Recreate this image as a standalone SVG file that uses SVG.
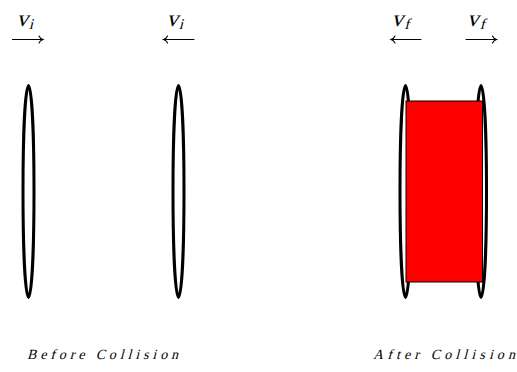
<svg xmlns="http://www.w3.org/2000/svg" width="517" height="372" viewBox="0 0 517 372">
<style>
.disc{fill:none;stroke:#000;stroke-width:3}
.arr{fill:none;stroke:#000;stroke-width:1.1;stroke-linecap:round}
text{font-family:'Liberation Serif','Times New Roman',serif;font-weight:normal;fill:#000}
.lbl{font-size:23px}
.sub{font-size:15px}
.cap{font-size:14px}
</style>
<rect width="517" height="372" fill="#fff"/>
<g id="disc-left-before"><ellipse class="disc" cx="28.5" cy="191.5" rx="5.5" ry="106"/></g>
<g id="disc-right-before"><ellipse class="disc" cx="178.5" cy="191.5" rx="5.5" ry="106"/></g>
<g id="disc-left-after"><ellipse class="disc" cx="405.5" cy="191.5" rx="5.5" ry="106"/></g>
<g id="disc-right-after"><ellipse class="disc" cx="481" cy="191.5" rx="5.5" ry="106"/></g>
<g id="merged-block"><rect x="406" y="101" width="76.5" height="181" fill="#f00" stroke="#000" stroke-width="1"/></g>
<g id="connectors">
<path class="arr" d="M12.5 39.5H43M39 36Q40 38.5 43 39.5Q40 40.5 39 43"/>
<path class="arr" d="M194 39.5H163.5M167.5 36Q166.5 38.5 163.5 39.5Q166.5 40.5 167.5 43"/>
<path class="arr" d="M421 39.5H391M395 36Q394 38.5 391 39.5Q394 40.5 395 43"/>
<path class="arr" d="M466 39.5H496.5M492.5 36Q493.5 38.5 496.5 39.5Q493.5 40.5 492.5 43"/>
</g>
<g id="labels">
<g transform="translate(16.5,25.5) skewX(-15)"><text class="lbl">v<tspan class="sub" dx="1.5" dy="3">i</tspan></text></g>
<g transform="translate(166.5,25.5) skewX(-15)"><text class="lbl">v<tspan class="sub" dx="1.5" dy="3">i</tspan></text></g>
<g transform="translate(391.5,25.5) skewX(-15)"><text class="lbl">v<tspan class="sub" dx="2" dy="3">f</tspan></text></g>
<g transform="translate(467,25.5) skewX(-15)"><text class="lbl">v<tspan class="sub" dx="2" dy="3">f</tspan></text></g>
<g transform="translate(27,359) skewX(-15)"><text class="cap" textLength="151" lengthAdjust="spacing">Before Collision</text></g>
<g transform="translate(373,359) skewX(-15)"><text class="cap" textLength="142" lengthAdjust="spacing">After Collision</text></g>
</g>
</svg>
